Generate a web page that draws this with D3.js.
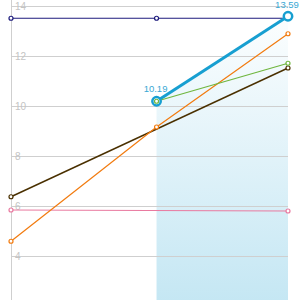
<!DOCTYPE html>
<html>
<head>
<meta charset="utf-8">
<script src="https://cdn.jsdelivr.net/npm/d3@7"></script>
<style>
  html, body { margin: 0; padding: 0; background: #fff; }
  svg { display: block; font-family: "Helvetica Neue", "Liberation Sans", Arial, sans-serif; }
</style>
</head>
<body>
<div id="chart"></div>
<script>
const width = 300;
const height = 300;

// data
const dates = ["2015-01-01", "2015-02-01", "2015-03-01"];
const yTicks = [4, 6, 8, 10, 12, 14];

const navyValues = [13.51, 13.51, 13.51];
const pinkValues = [5.84, null, 5.80];
const brownValues = [6.37, null, 11.52];
const orangeValues = [4.59, 9.16, 12.89];
const greenValues = [null, 10.19, 11.71];
const blueValues = [null, 10.19, 13.59];

const series = [
    { name: "navy", color: "#1c1a7c", values: navyValues, width: 1.2, r: 2 },
    { name: "pink", color: "#e97aa0", values: pinkValues, width: 1.2, r: 2 },
    { name: "brown", color: "#4a3000", values: brownValues, width: 1.4, r: 2 },
    { name: "orange", color: "#f27b0f", values: orangeValues, width: 1.2, r: 2 },
    { name: "blue", color: "#179fd1", values: blueValues, width: 3, r: 4.2, area: true, labels: true },
    { name: "green", color: "#6fb63e", values: greenValues, width: 1.2, r: 2 }
];

const parse = d3.timeParse("%Y-%m-%d");
const points = s => s.values
    .map((v, i) => ({ date: parse(dates[i]), value: v }))
    .filter(d => d.value !== null);

const x = d3.scaleTime()
    .domain([parse(dates[0]), parse(dates[dates.length - 1])])
    .range([11, 288]);

const y = d3.scaleLinear()
    .domain([2.24, 14.24])
    .range([height, 0]);

let svg = d3.select("#chart")
    .append("svg")
    .attr("width", width)
    .attr("height", height);

let defs = svg.append("defs");
let grad = defs.append("linearGradient")
    .attr("id", "blueFill")
    .attr("gradientUnits", "userSpaceOnUse")
    .attr("x1", 0).attr("y1", 0)
    .attr("x2", 0).attr("y2", height);
grad.append("stop").attr("offset", "0%").attr("stop-color", "#179fd1").attr("stop-opacity", 0.0);
grad.append("stop").attr("offset", "100%").attr("stop-color", "#179fd1").attr("stop-opacity", 0.25);

// area under the blue series
const blue = series.find(s => s.area);
svg.append("path")
    .datum(points(blue))
    .attr("fill", "url(#blueFill)")
    .attr("d", d3.area()
        .x(d => x(d.date))
        .y0(height)
        .y1(d => y(d.value)));

// grid
svg.selectAll(".grid")
    .data(yTicks)
    .join("line")
    .attr("class", "grid")
    .attr("x1", x.range()[0])
    .attr("x2", x.range()[1])
    .attr("y1", d => Math.round(y(d)) + 0.5)
    .attr("y2", d => Math.round(y(d)) + 0.5)
    .attr("stroke", "#cfcfcf")
    .attr("stroke-width", 1);

svg.append("line")
    .attr("x1", 11.5).attr("x2", 11.5)
    .attr("y1", 0).attr("y2", height)
    .attr("stroke", "#cfcfcf");

svg.selectAll(".tick-label")
    .data(yTicks)
    .join("text")
    .attr("class", "tick-label")
    .attr("x", 15)
    .attr("y", d => y(d))
    .attr("dy", "0.35em")
    .attr("font-size", 10)
    .attr("fill", "#c4c4c4")
    .text(d => d);

const line = d3.line()
    .x(d => x(d.date))
    .y(d => y(d.value));

series.forEach(s => {
    svg.append("path")
        .datum(points(s))
        .attr("fill", "none")
        .attr("stroke", s.color)
        .attr("stroke-width", s.width)
        .attr("d", line);
});

series.forEach(s => {
    svg.selectAll(".dot-" + s.name)
        .data(points(s))
        .join("circle")
        .attr("class", "dot-" + s.name)
        .attr("cx", d => x(d.date))
        .attr("cy", d => y(d.value))
        .attr("r", s.r)
        .attr("fill", "#fff")
        .attr("stroke", s.color)
        .attr("stroke-width", s.width > 2 ? 2.5 : 1.2);
    if (s.labels) {
        svg.selectAll(".label-" + s.name)
            .data(points(s))
            .join("text")
            .attr("class", "label-" + s.name)
            .attr("x", d => x(d.date) - 1)
            .attr("y", d => Math.max(y(d.value) - 9, 8))
            .attr("text-anchor", "middle")
            .attr("font-size", 9.5)
            .attr("fill", "#3aa8d4")
            .text(d => d3.format(".2f")(d.value));
    }
});
</script>
</body>
</html>
